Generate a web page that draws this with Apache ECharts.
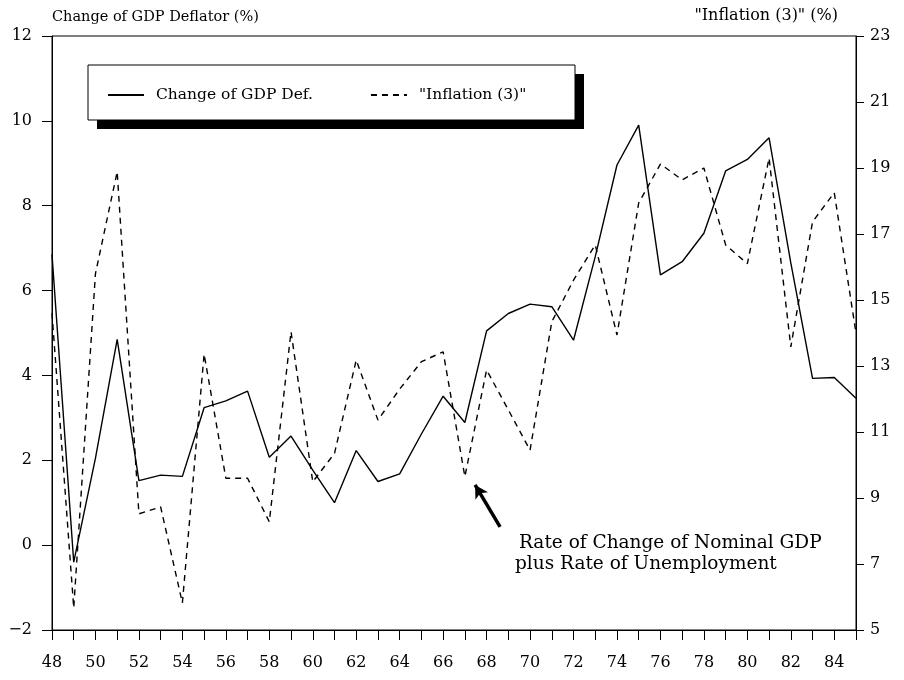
<!DOCTYPE html>
<html>
<head>
<meta charset="utf-8">
<script src="https://cdn.jsdelivr.net/npm/echarts@6/dist/echarts.min.js"></script>
<style>
html, body { margin: 0; padding: 0; background: #fff; }
#chart { width: 904px; height: 680px; }
</style>
</head>
<body>
<div id="chart"></div>
<script>
var years = [48,49,50,51,52,53,54,55,56,57,58,59,60,61,62,63,64,65,66,67,68,69,70,71,72,73,74,75,76,77,78,79,80,81,82,83,84,85];
var gdpDef = [6.85,-0.4,2.05,4.85,1.52,1.65,1.62,3.24,3.4,3.63,2.07,2.57,1.77,1.0,2.23,1.5,1.68,2.62,3.51,2.89,
              5.05,5.46,5.68,5.62,4.83,6.8,8.96,9.9,6.37,6.68,7.35,8.82,9.09,9.6,6.65,3.93,3.95,3.46];
var inflation3 = [14.6,5.67,15.8,18.89,8.52,8.73,5.82,13.36,9.6,9.6,8.28,14.04,9.49,10.35,13.18,11.36,12.3,13.13,13.43,9.65,
                  12.88,11.67,10.45,14.34,15.6,16.67,13.94,17.94,19.12,18.64,19.0,16.67,16.1,19.3,13.58,17.37,18.25,14.0];
var arrowFrom = [68.62, 0.43];
var arrowTo = [67.47, 1.42];

var font = 'DejaVu Serif';
var myChart = echarts.init(document.getElementById('chart'));

function pairs(vals) {
    return years.map(function (y, i) { return [y, vals[i]]; });
}
function minus(v) {
    return String(v).replace('-', '\u2212');
}

option = {
    backgroundColor: '#fff',
    animation: false,
    textStyle: { fontFamily: font, color: '#000' },
    grid: {
        left: 52, right: 48, top: 36, bottom: 50,
        show: true, borderColor: '#000', borderWidth: 1
    },
    legend: {
        left: 107, top: 87,
        padding: 0,
        itemGap: 57,
        itemWidth: 36,
        itemHeight: 14,
        z: 10,
        itemStyle: { opacity: 0 },
        textStyle: { fontFamily: font, fontSize: 15.5, color: '#000', padding: [0, 0, 0, 7] },
        data: ['Change of GDP Def.', '"Inflation (3)"']
    },
    xAxis: {
        type: 'value',
        min: 48, max: 85, interval: 1,
        axisLine: { onZero: false, lineStyle: { color: '#000', width: 1 } },
        axisTick: { inside: false, length: 10, lineStyle: { color: '#000' } },
        axisLabel: {
            margin: 25, fontSize: 16, color: '#000', fontFamily: font,
            formatter: function (v) { return v % 2 === 0 ? String(v) : ''; }
        },
        splitLine: { show: false }
    },
    yAxis: [{
        type: 'value',
        min: -2, max: 12, interval: 2,
        axisLine: { show: true, onZero: false, lineStyle: { color: '#000' } },
        axisTick: { show: true, length: 10, lineStyle: { color: '#000' } },
        axisLabel: { margin: 20, fontSize: 16, color: '#000', fontFamily: font, formatter: minus },
        splitLine: { show: false }
    }, {
        type: 'value',
        min: 5, max: 23, interval: 2,
        position: 'right',
        axisLine: { show: true, onZero: false, lineStyle: { color: '#000' } },
        axisTick: { show: true, length: 8, lineStyle: { color: '#000' } },
        axisLabel: { margin: 14, fontSize: 16, color: '#000', fontFamily: font },
        splitLine: { show: false }
    }],
    graphic: [{
        type: 'rect', z: 1, silent: true,
        shape: { x: 97, y: 74, width: 487, height: 55 },
        style: { fill: '#000' }
    }, {
        type: 'rect', z: 2, silent: true,
        shape: { x: 88, y: 65, width: 487, height: 55 },
        style: { fill: '#fff', stroke: '#000', lineWidth: 1 }
    }, {
        type: 'text', left: 52, top: 10,
        style: { text: 'Change of GDP Deflator (%)', font: '14.5px "DejaVu Serif"', fill: '#000' }
    }, {
        type: 'text', right: 66, top: 8,
        style: { text: '"Inflation (3)" (%)', font: '16px "DejaVu Serif"', fill: '#000' }
    }, {
        type: 'text', left: 519, top: 534,
        style: { text: 'Rate of Change of Nominal GDP', font: '18.5px "DejaVu Serif"', fill: '#000' }
    }, {
        type: 'text', left: 515, top: 555,
        style: { text: 'plus Rate of Unemployment', font: '18.5px "DejaVu Serif"', fill: '#000' }
    }],
    series: [{
        name: 'Change of GDP Def.',
        type: 'line',
        yAxisIndex: 0,
        symbol: 'none',
        lineStyle: { color: '#000', width: 1.4, type: 'solid' },
        itemStyle: { color: '#000' },
        data: pairs(gdpDef),
        markLine: {
            silent: true,
            symbol: ['none', 'arrow'],
            symbolSize: [11, 13],
            label: { show: false },
            lineStyle: { color: '#000', width: 3.5, type: 'solid' },
            data: [[{ coord: arrowFrom }, { coord: arrowTo }]]
        }
    }, {
        name: '"Inflation (3)"',
        type: 'line',
        yAxisIndex: 1,
        symbol: 'none',
        lineStyle: { color: '#000', width: 1.4, type: [6, 5] },
        itemStyle: { color: '#000' },
        data: pairs(inflation3)
    }]
};

myChart.setOption(option);
</script>
</body>
</html>
